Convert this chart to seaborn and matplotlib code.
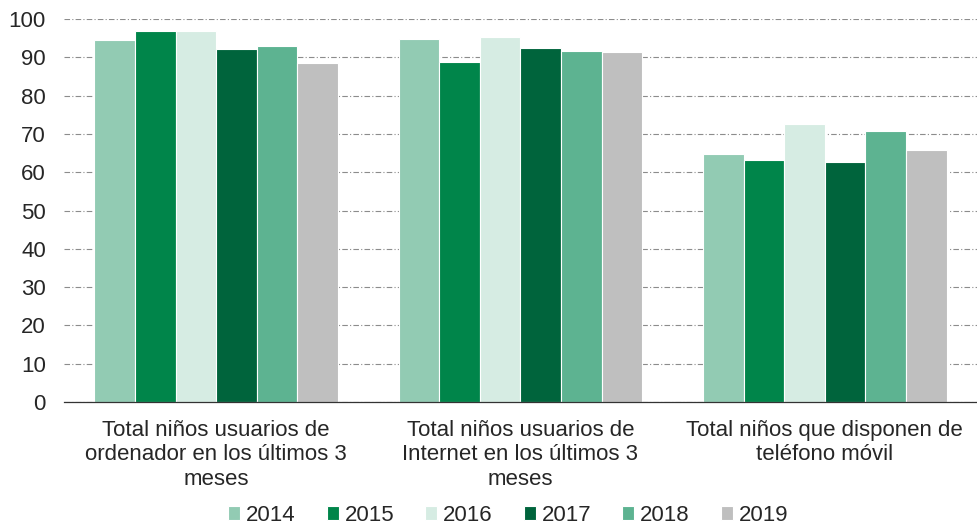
import seaborn as sns
import matplotlib.pyplot as plt
import pandas as pd

# Datos
categorias = [
    'Total niños usuarios de\nordenador en los últimos 3\nmeses',
    'Total niños usuarios de\nInternet en los últimos 3\nmeses',
    'Total niños que disponen de\nteléfono móvil',
]
anios = ['2014', '2015', '2016', '2017', '2018', '2019']
v2014 = [94.5, 94.7, 64.7]
v2015 = [96.9, 88.7, 63.1]
v2016 = [96.9, 95.2, 72.6]
v2017 = [92.2, 92.3, 62.7]
v2018 = [92.9, 91.7, 70.8]
v2019 = [88.4, 91.5, 65.7]
colores = ['#92CBB3', '#00854A', '#D6ECE3', '#00643C', '#5DB391', '#BFBFBF']

series = [v2014, v2015, v2016, v2017, v2018, v2019]
rows = []
for anio, vals in zip(anios, series):
    for cat, v in zip(categorias, vals):
        rows.append({'categoria': cat, 'anio': anio, 'valor': v})
df = pd.DataFrame(rows)

sns.set_style('white')
plt.rcParams['font.family'] = ['Liberation Sans', 'DejaVu Sans']

fig = plt.figure(figsize=(9.77, 5.27), dpi=100)
ax = fig.add_axes([0.0655, 0.237, 0.9345, 0.727])

sns.barplot(data=df, x='categoria', y='valor', hue='anio', palette=colores,
            width=0.8, edgecolor='white', linewidth=0.8, saturation=1, ax=ax)

ax.set_ylim(0, 100)
ax.set_xlim(-0.5, 2.5)
ax.set_yticks(range(0, 101, 10))
ax.yaxis.grid(True, linestyle=(0, (5, 2, 1, 2)), color='#8c8c8c', linewidth=0.8)
ax.set_axisbelow(True)
ax.tick_params(axis='y', length=0, labelsize=16, pad=13)
ax.tick_params(axis='x', length=0, labelsize=16, pad=13)
for lbl in ax.get_xticklabels():
    lbl.set_linespacing(1.2)
ax.set_xticks([-0.5, 0.5, 1.5, 2.5], minor=True)
ax.tick_params(axis='x', which='minor', length=5, color='#9a9a9a', width=0.9)
ax.set_xlabel('')
ax.set_ylabel('')
for s in ['top', 'right', 'left']:
    ax.spines[s].set_visible(False)
ax.spines['bottom'].set_color('#333333')
ax.spines['bottom'].set_linewidth(0.9)

handles, labels = ax.get_legend_handles_labels()
ax.legend_.remove()
fig.legend(handles, labels, loc='center', bbox_to_anchor=(0.52, 0.022), ncol=6,
           frameon=False, fontsize=16, handlelength=0.55, handleheight=0.55,
           handletextpad=0.25, columnspacing=1.4, borderpad=0)

fig.savefig('out.png', dpi=100)
